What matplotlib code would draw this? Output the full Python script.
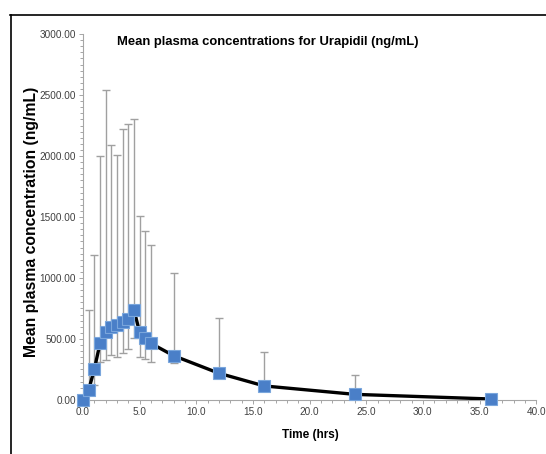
import matplotlib
matplotlib.use("Agg")
import matplotlib.pyplot as plt
from matplotlib.lines import Line2D
from matplotlib.ticker import MultipleLocator, FormatStrFormatter

# time points (hrs) and mean concentration (ng/mL)
time_hrs = [0, 0.5, 1, 1.5, 2, 2.5, 3, 3.5, 4, 4.5, 5, 5.5, 6, 8, 12, 16, 24, 36]
mean_conc = [0, 82, 251, 464, 555, 596, 615, 637, 667, 738, 555, 505, 464, 363, 219, 115, 46, 8]
# top and bottom of the error bars (ng/mL)
upper_bar = [0, 738, 1189, 2000, 2541, 2088, 2006, 2219, 2262, 2301, 1508, 1388, 1273, 1038, 675, 396, 205, 8]
lower_bar = [0, 82, 123, 314, 328, 369, 350, 383, 415, 505, 350, 339, 311, 306, 219, 115, 46, 8]

font = ['Liberation Sans', 'DejaVu Sans']

fig = plt.figure(figsize=(5.46, 4.54), dpi=100)
ax = fig.add_axes([0.152, 0.119, 0.830, 0.806])

err_lo = [m - l for m, l in zip(mean_conc, lower_bar)]
err_hi = [u - m for m, u in zip(mean_conc, upper_bar)]
eb = ax.errorbar(time_hrs, mean_conc, yerr=[err_lo, err_hi], fmt='none',
                 ecolor='#a0a0a0', elinewidth=1.0, capsize=3.2, capthick=1.0, zorder=2)
for cap in eb[1]:
    cap.set_color('#4a4a4a')

ax.plot(time_hrs, mean_conc, color='black', lw=2.4, zorder=3)
ax.plot(time_hrs, mean_conc, ls='none', marker='s', ms=8, mfc='#4a7fc8',
        mec='#7aa6dc', mew=0.8, zorder=4, clip_on=False)

ax.set_xlim(0, 40)
ax.set_ylim(0, 3000)
ax.xaxis.set_major_locator(MultipleLocator(5))
ax.xaxis.set_minor_locator(MultipleLocator(1))
ax.yaxis.set_major_locator(MultipleLocator(500))
ax.yaxis.set_minor_locator(MultipleLocator(50))
ax.xaxis.set_major_formatter(FormatStrFormatter('%.1f'))
ax.yaxis.set_major_formatter(FormatStrFormatter('%.2f'))

for s in ['top', 'right']:
    ax.spines[s].set_visible(False)
for s in ['left', 'bottom']:
    ax.spines[s].set_color('#a6a6a6')
    ax.spines[s].set_linewidth(0.8)

ax.tick_params(which='both', color='#a6a6a6', width=0.7, labelsize=7.2,
               labelcolor='#404040', pad=1.8)
ax.tick_params(which='major', length=3.2)
ax.tick_params(which='minor', length=2)
for lab in ax.get_xticklabels() + ax.get_yticklabels():
    lab.set_family(font)

ax.set_xlabel('Time (hrs)', fontsize=8.5, fontweight='bold', family=font)
ax.set_ylabel('Mean plasma concentration (ng/mL)', fontsize=11.3, fontweight='bold',
              family=font)
ax.xaxis.set_label_coords(0.501, -0.078)
ax.yaxis.set_label_coords(-0.096, 0.486)
fig.text(0.49, 0.907, 'Mean plasma concentrations for Urapidil (ng/mL)',
         fontsize=9.4, fontweight='bold', family=font, ha='center', va='center')

# outer frame (top and left edges)
fig.add_artist(Line2D([0.019, 1.0], [0.967, 0.967], color='black', lw=1.2))
fig.add_artist(Line2D([0.020, 0.020], [0.0, 0.967], color='black', lw=1.2))

fig.savefig('out.png', dpi=100)
